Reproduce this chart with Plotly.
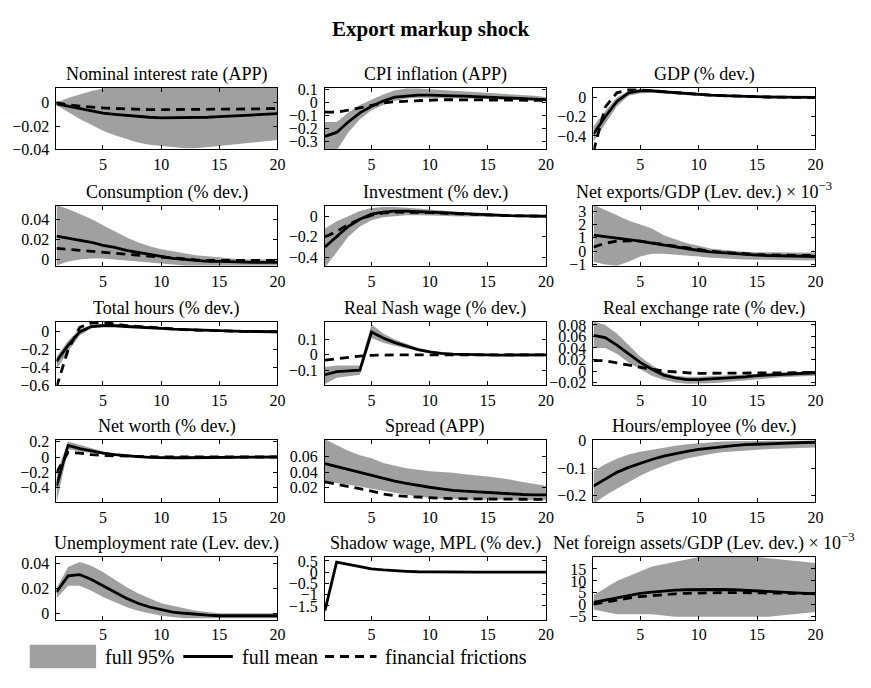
import plotly.graph_objects as go

W, H = 871, 688
x = list(range(1, 21))

titles = [
    "Nominal interest rate (APP)", "CPI inflation (APP)", "GDP (% dev.)",
    "Consumption (% dev.)", "Investment (% dev.)", "Net exports/GDP (Lev. dev.) × 10<sup>−3</sup>",
    "Total hours (% dev.)", "Real Nash wage (% dev.)", "Real exchange rate (% dev.)",
    "Net worth (% dev.)", "Spread (APP)", "Hours/employee (% dev.)",
    "Unemployment rate (Lev. dev.)", "Shadow wage, MPL (% dev.)", "Net foreign assets/GDP (Lev. dev.) × 10<sup>−3</sup>",
]

# 1 Nominal interest rate
nom_mean = [-0.001,-0.003,-0.005,-0.007,-0.009,-0.010,-0.011,-0.012,-0.0125,-0.013,-0.013,-0.013,-0.0128,-0.0125,-0.012,-0.0115,-0.011,-0.0105,-0.010,-0.0095]
nom_ff = [0.0,-0.002,-0.003,-0.004,-0.0045,-0.005,-0.0055,-0.0058,-0.006,-0.006,-0.006,-0.006,-0.006,-0.006,-0.006,-0.0058,-0.0056,-0.0054,-0.0052,-0.005]
nom_hi = [0.0,0.004,0.007,0.010,0.012,0.014,0.014,0.014,0.014,0.014,0.014,0.014,0.014,0.014,0.014,0.014,0.014,0.014,0.014,0.014]
nom_lo = [-0.002,-0.008,-0.014,-0.019,-0.024,-0.028,-0.031,-0.034,-0.036,-0.037,-0.038,-0.039,-0.039,-0.038,-0.037,-0.036,-0.035,-0.034,-0.033,-0.032]
# 2 CPI inflation
cpi_mean = [-0.26,-0.23,-0.15,-0.08,-0.03,0.01,0.04,0.05,0.055,0.055,0.055,0.05,0.048,0.045,0.04,0.037,0.033,0.03,0.025,0.02]
cpi_ff = [-0.075,-0.075,-0.06,-0.04,-0.02,-0.005,0.005,0.01,0.015,0.018,0.02,0.02,0.02,0.02,0.02,0.02,0.018,0.017,0.016,0.015]
cpi_hi = [-0.15,-0.15,-0.08,-0.02,0.02,0.06,0.09,0.105,0.105,0.10,0.095,0.09,0.085,0.08,0.075,0.07,0.06,0.055,0.05,0.04]
cpi_lo = [-0.37,-0.37,-0.23,-0.13,-0.06,-0.02,0.01,0.03,0.035,0.035,0.035,0.033,0.03,0.028,0.025,0.022,0.02,0.017,0.014,0.01]
# 3 GDP
gdp_mean = [-0.38,-0.2,-0.04,0.05,0.07,0.07,0.06,0.05,0.04,0.03,0.025,0.02,0.015,0.01,0.008,0.006,0.004,0.003,0.002,0.001]
gdp_ff = [-0.56,-0.1,0.05,0.08,0.08,0.07,0.06,0.05,0.04,0.03,0.025,0.02,0.015,0.01,0.008,0.006,0.004,0.003,0.002,0.001]
gdp_hi = [-0.3,-0.14,0.0,0.07,0.09,0.09,0.08,0.07,0.055,0.045,0.035,0.03,0.025,0.02,0.015,0.012,0.01,0.008,0.006,0.005]
gdp_lo = [-0.46,-0.27,-0.09,0.02,0.045,0.05,0.045,0.035,0.025,0.018,0.013,0.01,0.006,0.003,0.001,0.0,-0.001,-0.002,-0.002,-0.003]
# 4 Consumption
con_mean = [0.023,0.021,0.019,0.017,0.014,0.012,0.009,0.007,0.005,0.003,0.001,0.0,-0.001,-0.002,-0.002,-0.0025,-0.003,-0.003,-0.003,-0.003]
con_ff = [0.011,0.010,0.009,0.008,0.007,0.006,0.005,0.004,0.003,0.002,0.001,0.0,-0.0005,-0.001,-0.001,-0.001,-0.001,-0.001,-0.001,-0.001]
con_hi = [0.054,0.05,0.045,0.04,0.034,0.028,0.022,0.017,0.013,0.01,0.008,0.006,0.004,0.003,0.002,0.001,0.0,0.0,0.0,-0.001]
con_lo = [-0.006,-0.002,0.0,0.001,0.001,0.0,-0.001,-0.002,-0.003,-0.004,-0.005,-0.006,-0.006,-0.006,-0.006,-0.006,-0.006,-0.006,-0.006,-0.006]
# 5 Investment
inv_mean = [-0.3,-0.2,-0.1,-0.03,0.02,0.04,0.05,0.05,0.045,0.04,0.035,0.03,0.022,0.015,0.01,0.008,0.005,0.003,0.001,0.0]
inv_ff = [-0.2,-0.15,-0.08,-0.03,0.01,0.03,0.04,0.04,0.04,0.035,0.03,0.025,0.02,0.015,0.01,0.007,0.005,0.003,0.001,0.0]
inv_hi = [-0.12,-0.05,0.0,0.05,0.08,0.09,0.09,0.085,0.075,0.065,0.055,0.045,0.035,0.025,0.02,0.015,0.012,0.01,0.008,0.006]
inv_lo = [-0.5,-0.35,-0.2,-0.1,-0.04,-0.01,0.0,0.01,0.01,0.01,0.005,0.0,-0.003,-0.005,-0.006,-0.007,-0.008,-0.008,-0.008,-0.008]
# 6 Net exports/GDP
nx_mean = [1.2,1.1,1.0,0.9,0.75,0.6,0.45,0.3,0.15,0.05,-0.05,-0.12,-0.2,-0.25,-0.3,-0.33,-0.35,-0.37,-0.38,-0.4]
nx_ff = [0.3,0.6,0.75,0.78,0.75,0.65,0.5,0.38,0.25,0.12,0.0,-0.08,-0.15,-0.2,-0.25,-0.28,-0.3,-0.32,-0.33,-0.33]
nx_hi = [3.5,3.1,2.7,2.3,2.0,1.7,1.2,0.9,0.6,0.4,0.2,0.1,0.0,-0.05,-0.08,-0.1,-0.1,-0.1,-0.1,-0.1]
nx_lo = [-0.8,-1.0,-1.1,-0.8,-0.4,-0.2,-0.2,-0.25,-0.3,-0.4,-0.5,-0.55,-0.6,-0.62,-0.64,-0.66,-0.68,-0.69,-0.7,-0.7]
# 7 Total hours
hrs_mean = [-0.33,-0.15,0.0,0.06,0.07,0.07,0.06,0.055,0.045,0.04,0.03,0.025,0.02,0.015,0.01,0.008,0.006,0.004,0.002,0.001]
hrs_ff = [-0.62,-0.2,0.05,0.1,0.1,0.09,0.07,0.06,0.05,0.04,0.03,0.025,0.02,0.015,0.01,0.008,0.006,0.004,0.002,0.001]
hrs_hi = [-0.28,-0.1,0.03,0.08,0.09,0.09,0.08,0.07,0.06,0.05,0.04,0.035,0.028,0.022,0.018,0.014,0.012,0.01,0.008,0.006]
hrs_lo = [-0.42,-0.22,-0.04,0.04,0.05,0.05,0.045,0.04,0.032,0.026,0.02,0.015,0.01,0.007,0.004,0.002,0.0,-0.002,-0.003,-0.004]
# 8 Real Nash wage
nash_mean = [-0.13,-0.11,-0.105,-0.1,0.15,0.11,0.08,0.055,0.035,0.02,0.01,0.005,0.002,0.0,0.0,-0.001,-0.001,0.0,0.0,0.0]
nash_ff = [-0.035,-0.025,-0.015,-0.008,-0.003,0.0,0.0,0.0,0.0,0.0,0.0,0.0,0.0,0.0,0.0,0.0,0.0,0.0,0.0,0.0]
nash_hi = [-0.08,-0.07,-0.07,-0.07,0.2,0.14,0.1,0.07,0.045,0.028,0.015,0.008,0.005,0.004,0.003,0.003,0.003,0.003,0.003,0.003]
nash_lo = [-0.19,-0.15,-0.14,-0.13,0.11,0.08,0.06,0.04,0.025,0.012,0.005,0.0,-0.003,-0.004,-0.004,-0.004,-0.004,-0.004,-0.004,-0.004]
# 9 Real exchange rate
rer_mean = [0.062,0.058,0.045,0.03,0.015,0.003,-0.007,-0.012,-0.015,-0.015,-0.014,-0.013,-0.011,-0.01,-0.008,-0.007,-0.006,-0.005,-0.004,-0.003]
rer_ff = [0.018,0.018,0.014,0.01,0.006,0.003,0.0,-0.002,-0.003,-0.004,-0.004,-0.004,-0.004,-0.004,-0.004,-0.0035,-0.003,-0.003,-0.0025,-0.002]
rer_hi = [0.086,0.08,0.065,0.045,0.025,0.01,-0.002,-0.008,-0.01,-0.01,-0.009,-0.008,-0.007,-0.006,-0.005,-0.004,-0.003,-0.002,-0.001,0.0]
rer_lo = [0.04,0.04,0.03,0.015,0.003,-0.008,-0.015,-0.02,-0.022,-0.022,-0.021,-0.02,-0.018,-0.016,-0.014,-0.012,-0.011,-0.01,-0.009,-0.008]
# 10 Net worth
nw_mean = [-0.38,0.15,0.11,0.08,0.05,0.03,0.015,0.005,-0.005,-0.01,-0.01,-0.01,-0.008,-0.006,-0.005,-0.004,-0.003,-0.002,-0.001,0.0]
nw_ff = [-0.2,0.06,0.05,0.03,0.02,0.015,0.01,0.005,0.0,0.0,0.0,0.0,0.0,0.0,0.0,0.0,0.0,0.0,0.0,0.0]
nw_hi = [-0.22,0.2,0.16,0.11,0.07,0.045,0.03,0.02,0.01,0.005,0.003,0.002,0.002,0.002,0.002,0.002,0.002,0.002,0.002,0.002]
nw_lo = [-0.6,0.1,0.07,0.05,0.03,0.015,0.0,-0.01,-0.018,-0.022,-0.022,-0.02,-0.018,-0.016,-0.014,-0.012,-0.01,-0.009,-0.008,-0.007]
# 11 Spread
spr_mean = [0.051,0.047,0.043,0.039,0.035,0.031,0.028,0.025,0.022,0.02,0.018,0.016,0.015,0.014,0.013,0.012,0.011,0.0105,0.01,0.01]
spr_ff = [0.027,0.024,0.021,0.018,0.015,0.011,0.009,0.008,0.007,0.006,0.0055,0.005,0.005,0.005,0.0048,0.0046,0.0044,0.0042,0.004,0.004]
spr_hi = [0.083,0.075,0.068,0.062,0.058,0.052,0.048,0.045,0.043,0.041,0.04,0.039,0.037,0.036,0.034,0.032,0.03,0.027,0.024,0.022]
spr_lo = [0.028,0.026,0.024,0.021,0.018,0.015,0.012,0.01,0.008,0.006,0.005,0.005,0.004,0.004,0.004,0.004,0.003,0.003,0.003,0.003]
# 12 Hours/employee
hpe_mean = [-0.165,-0.14,-0.115,-0.097,-0.082,-0.068,-0.056,-0.046,-0.038,-0.031,-0.026,-0.021,-0.017,-0.014,-0.012,-0.01,-0.008,-0.007,-0.006,-0.005]
hpe_ff = None
hpe_hi = [-0.11,-0.085,-0.065,-0.05,-0.04,-0.032,-0.025,-0.018,-0.012,-0.008,-0.004,-0.002,-0.001,0.0,0.0,0.0,0.0,0.0,0.0,0.0]
hpe_lo = [-0.23,-0.2,-0.175,-0.15,-0.127,-0.107,-0.09,-0.075,-0.064,-0.055,-0.048,-0.042,-0.038,-0.035,-0.032,-0.03,-0.028,-0.026,-0.025,-0.024]
# 13 Unemployment rate
une_mean = [0.017,0.03,0.031,0.027,0.022,0.017,0.012,0.008,0.005,0.003,0.001,0.0,-0.001,-0.0015,-0.002,-0.002,-0.002,-0.002,-0.002,-0.002]
une_ff = None
une_hi = [0.02,0.037,0.041,0.038,0.033,0.027,0.021,0.016,0.012,0.008,0.006,0.004,0.002,0.001,0.0,0.0,0.0,0.0,0.0,0.0]
une_lo = [0.012,0.022,0.022,0.018,0.013,0.009,0.005,0.002,0.0,-0.002,-0.003,-0.004,-0.004,-0.004,-0.004,-0.004,-0.004,-0.004,-0.004,-0.004]
# 14 Shadow wage, MPL
shw_mean = [-1.7,0.45,0.35,0.25,0.15,0.1,0.06,0.04,0.02,0.01,0.005,0.0,0.0,0.0,0.0,0.0,0.0,0.0,0.0,0.0]
shw_ff = None
shw_hi = [-1.62,0.5,0.39,0.28,0.18,0.12,0.08,0.055,0.035,0.022,0.014,0.01,0.008,0.006,0.005,0.004,0.004,0.004,0.004,0.004]
shw_lo = [-1.8,0.4,0.31,0.22,0.12,0.08,0.045,0.025,0.008,-0.002,-0.005,-0.008,-0.008,-0.007,-0.006,-0.005,-0.005,-0.005,-0.005,-0.005]
# 15 Net foreign assets/GDP
nfa_mean = [1.0,2.0,3.0,4.0,4.8,5.3,5.8,6.1,6.3,6.4,6.4,6.4,6.3,6.1,5.9,5.7,5.4,5.1,4.9,4.6]
nfa_ff = [0.3,1.2,2.0,2.8,3.4,3.9,4.3,4.6,4.8,5.0,5.1,5.1,5.1,5.1,5.1,5.0,4.9,4.8,4.7,4.6]
nfa_hi = [4.0,7.0,10.0,12.0,14.0,16.0,17.0,18.0,19.0,20.0,20.0,20.0,20.0,20.0,20.0,19.5,19.0,18.5,18.0,17.5]
nfa_lo = [-2.0,-3.0,-4.0,-4.0,-4.0,-4.0,-4.5,-5.0,-5.0,-5.0,-5.0,-5.0,-5.0,-5.0,-5.0,-5.0,-4.5,-4.0,-3.5,-3.0]

means = [nom_mean, cpi_mean, gdp_mean, con_mean, inv_mean, nx_mean, hrs_mean, nash_mean, rer_mean,
         nw_mean, spr_mean, hpe_mean, une_mean, shw_mean, nfa_mean]
ffs = [nom_ff, cpi_ff, gdp_ff, con_ff, inv_ff, nx_ff, hrs_ff, nash_ff, rer_ff,
       nw_ff, spr_ff, hpe_ff, une_ff, shw_ff, nfa_ff]
his = [nom_hi, cpi_hi, gdp_hi, con_hi, inv_hi, nx_hi, hrs_hi, nash_hi, rer_hi,
       nw_hi, spr_hi, hpe_hi, une_hi, shw_hi, nfa_hi]
los = [nom_lo, cpi_lo, gdp_lo, con_lo, inv_lo, nx_lo, hrs_lo, nash_lo, rer_lo,
       nw_lo, spr_lo, hpe_lo, une_lo, shw_lo, nfa_lo]

yticks = [
    [-0.04, -0.02, 0], [-0.3, -0.2, -0.1, 0, 0.1], [-0.4, -0.2, 0],
    [0, 0.02, 0.04], [-0.4, -0.2, 0], [-1, 0, 1, 2, 3],
    [-0.6, -0.4, -0.2, 0], [-0.1, 0, 0.1], [-0.02, 0, 0.02, 0.04, 0.06, 0.08],
    [-0.4, -0.2, 0, 0.2], [0.02, 0.04, 0.06], [-0.2, -0.1, 0],
    [0, 0.02, 0.04], [-1.5, -1, -0.5, 0, 0.5], [-5, 0, 5, 10, 15],
]
yranges = [
    [-0.04, 0.0125], [-0.36, 0.11], [-0.54, 0.1],
    [-0.007, 0.053], [-0.49, 0.1], [-1.15, 3.4],
    [-0.6, 0.11], [-0.2, 0.215], [-0.025, 0.085],
    [-0.59, 0.22], [0.0, 0.082], [-0.225, 0.003],
    [-0.005, 0.045], [-2.1, 0.67], [-6.2, 20.0],
]
xticks = [5, 10, 15, 20]

col_px = [(57, 280), (328, 551), (599, 823)]
row_px = [(82, 145), (203, 265), (322, 387), (443, 507), (563, 627)]

FONT = "Liberation Serif, Times New Roman, serif"
GREY = "#a0a0a0"

def fmt(v):
    s = f"{v:g}"
    return s.replace("-", "−")

fig = go.Figure()
for i in range(15):
    r, c = divmod(i, 3)
    ax = "" if i == 0 else str(i + 1)
    xa, ya = "x" + ax, "y" + ax
    fig.add_trace(go.Scatter(x=x, y=los[i], mode="lines", line=dict(width=0, color=GREY),
                             xaxis=xa, yaxis=ya, showlegend=False, hoverinfo="skip"))
    fig.add_trace(go.Scatter(x=x, y=his[i], mode="lines", line=dict(width=0, color=GREY),
                             fill="tonexty", fillcolor=GREY, xaxis=xa, yaxis=ya,
                             showlegend=False, hoverinfo="skip"))
    if ffs[i] is not None:
        fig.add_trace(go.Scatter(x=x, y=ffs[i], mode="lines",
                                 line=dict(width=2.8, color="black", dash="9px,6px"),
                                 xaxis=xa, yaxis=ya, showlegend=False))
    fig.add_trace(go.Scatter(x=x, y=means[i], mode="lines", line=dict(width=2.8, color="black"),
                             xaxis=xa, yaxis=ya, showlegend=False))

    x0, x1 = col_px[c]
    t0, b0 = row_px[r]
    axis_common = dict(showline=True, linecolor="black", linewidth=1, mirror="ticks",
                       ticks="inside", ticklen=4, tickcolor="black", tickwidth=1,
                       showgrid=False, zeroline=False,
                       tickfont=dict(family=FONT, size=16, color="black"))
    fig.layout["xaxis" + ax] = dict(domain=[x0 / W, x1 / W], anchor=ya, range=[1, 20],
                                    tickmode="array", tickvals=xticks,
                                    ticktext=[fmt(t) for t in xticks], ticklabelstandoff=0,
                                    **axis_common)
    fig.layout["yaxis" + ax] = dict(domain=[1 - b0 / H, 1 - t0 / H], anchor=xa, range=yranges[i],
                                    tickmode="array", tickvals=yticks[i],
                                    ticktext=[fmt(t) for t in yticks[i]], ticklabelstandoff=3,
                                    **axis_common)
    fig.add_annotation(text=titles[i], xref="paper", yref="paper",
                       x=(x0 + x1) / 2 / W, y=1 - t0 / H, xanchor="center", yanchor="bottom",
                       yshift=1, showarrow=False, font=dict(family=FONT, size=18, color="black"))

fig.add_annotation(text="<b>Export markup shock</b>", xref="paper", yref="paper",
                   x=435 / W, y=1 - 22 / H, xanchor="center", yanchor="middle", showarrow=False,
                   font=dict(family=FONT, size=21, color="black"))

# custom legend
leg_y = 665
fig.add_shape(type="rect", xref="paper", yref="paper", x0=30 / W, x1=97 / W,
              y0=1 - 677 / H, y1=1 - 653 / H, fillcolor=GREY, line=dict(width=0))
fig.add_shape(type="line", xref="paper", yref="paper", x0=185 / W, x1=235 / W,
              y0=1 - leg_y / H, y1=1 - leg_y / H, line=dict(color="black", width=3))
fig.add_shape(type="line", xref="paper", yref="paper", x0=328 / W, x1=380 / W,
              y0=1 - leg_y / H, y1=1 - leg_y / H, line=dict(color="black", width=3, dash="9px,6px"))
for tx, xp in [("full 95%", 104), ("full mean", 242), ("financial frictions", 387)]:
    fig.add_annotation(text=tx, xref="paper", yref="paper", x=xp / W, y=1 - leg_y / H,
                       xanchor="left", yanchor="middle", showarrow=False,
                       font=dict(family=FONT, size=20, color="black"))

fig.update_layout(width=W, height=H, margin=dict(l=0, r=0, t=0, b=0),
                  paper_bgcolor="white", plot_bgcolor="white", showlegend=False)

fig.write_html("out.html")
